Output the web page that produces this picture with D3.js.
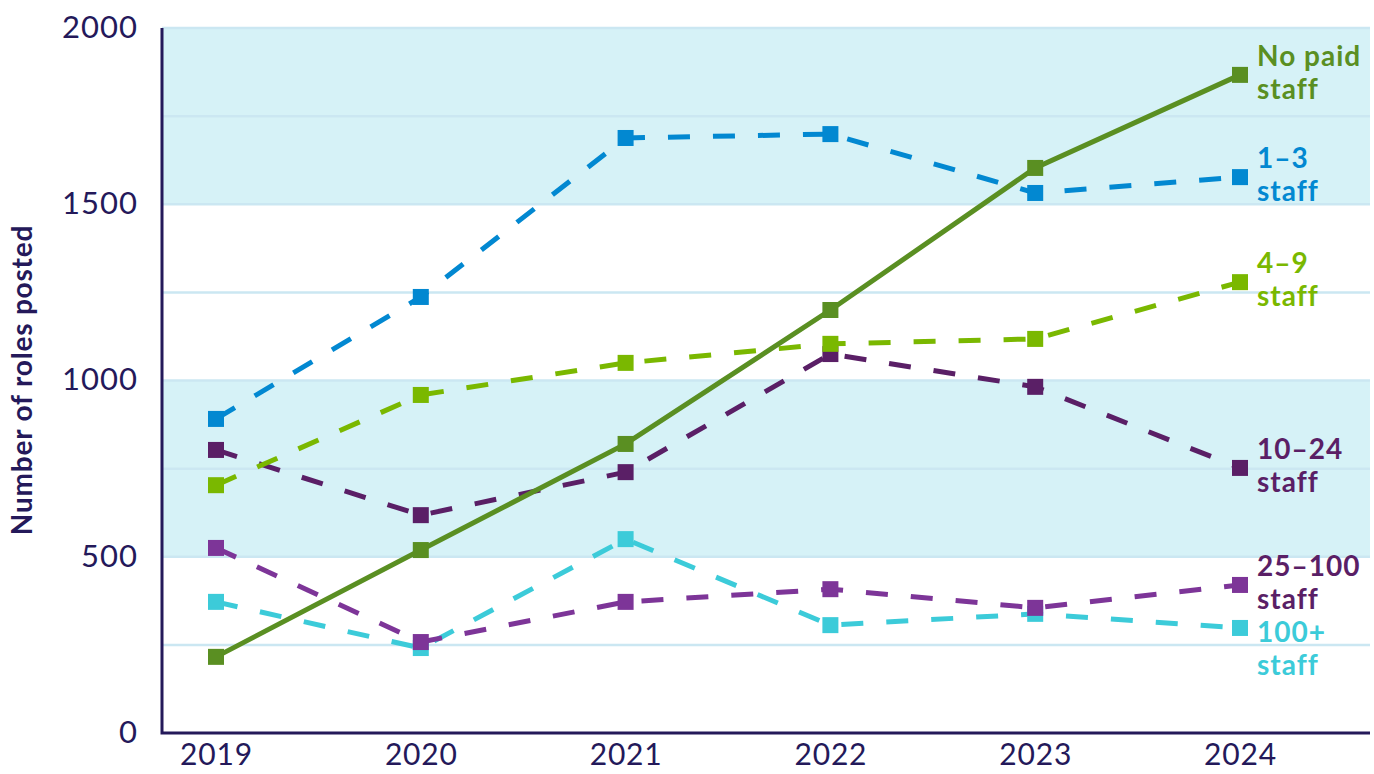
<!DOCTYPE html>
<html><head><meta charset="utf-8">
<script src="https://cdn.jsdelivr.net/npm/d3@7"></script>
<style>body{margin:0;background:#fff}svg{display:block}text{font-family:Lato,"Noto Sans",sans-serif}</style>
</head><body><svg id="c" width="1374" height="774"></svg>
<script>
const years = ["2019","2020","2021","2022","2023","2024"];
const seriesNames = ["No paid staff","1–3 staff","4–9 staff","10–24 staff","25–100 staff","100+ staff"];
const labelLines = [["No paid","staff"],["1–3","staff"],["4–9","staff"],["10–24","staff"],["25–100","staff"],["100+","staff"]];
const noPaid = [216, 519, 820, 1200, 1603, 1867];
const staff1to3 = [891, 1237, 1688, 1699, 1532, 1577];
const staff4to9 = [703, 959, 1050, 1104, 1118, 1279];
const staff10to24 = [803, 618, 740, 1075, 982, 752];
const staff25to100 = [525, 258, 372, 408, 355, 420];
const staff100plus = [372, 241, 550, 306, 338, 298];
const yTicks = [0, 500, 1000, 1500, 2000];
const gridValues = [250, 750, 1250, 1750];
const bands = [[500, 1000], [1500, 2000]];

const colors = ["#5a8f22","#0288d1","#7ab800","#5a1f66","#7d3598","#3ccbd9"];
const labelColors = ["#5a8f22","#0288d1","#7ab800","#5a1f66","#5a1f66","#3ccbd9"];
const dashed = [false,true,true,true,true,true];
const allValues = [noPaid, staff1to3, staff4to9, staff10to24, staff25to100, staff100plus];
const navy = "#24195a";

const svg = d3.select("#c");
const plotL = 162, plotR = 1370, plotT = 28, plotB = 733;
const x = d3.scalePoint().domain(years).range([216, 1240]);
const y = d3.scaleLinear().domain([0, 2000]).range([plotB, plotT]);

svg.append("g").selectAll("rect").data(bands).join("rect")
  .attr("x", plotL).attr("width", plotR - plotL)
  .attr("y", d => y(d[1])).attr("height", d => y(d[0]) - y(d[1]))
  .attr("fill", "#d6f2f7");
svg.append("g").selectAll("line").data(gridValues.concat(yTicks.filter(v => v > 0))).join("line")
  .attr("x1", plotL).attr("x2", plotR)
  .attr("y1", d => y(d)).attr("y2", d => y(d))
  .attr("stroke", "#cbe7f2").attr("stroke-width", 2.5);

const yAxis = d3.axisLeft(y).tickValues(yTicks).tickFormat(d3.format("d")).tickSize(0).tickPadding(0);
const gy = svg.append("g").attr("transform", `translate(138,0)`).call(yAxis);
gy.select(".domain").remove();
gy.selectAll("text").attr("fill", navy).style("font-size", "31px").style("letter-spacing", "1px")
  .style("font-family", "Lato, sans-serif").attr("dy", "0.3em");

const xAxis = d3.axisBottom(x).tickSize(0).tickPadding(0);
const gx = svg.append("g").attr("transform", `translate(0,744)`).call(xAxis);
gx.select(".domain").remove();
gx.selectAll("text").attr("fill", navy).style("font-size", "30px").style("letter-spacing", "0.8px")
  .style("font-family", "Lato, sans-serif").attr("dy", "0.71em");

svg.append("path").attr("d", `M${plotL},${plotT}V${plotB}H${plotR}`)
  .attr("fill", "none").attr("stroke", navy).attr("stroke-width", 3);

svg.append("text").attr("transform", `translate(22,380) rotate(-90)`)
  .attr("text-anchor", "middle").attr("dy", "0.35em").attr("fill", navy)
  .style("font-size", "28px").style("font-weight", "bold").style("letter-spacing", "0.8px")
  .text("Number of roles posted");

const line = d3.line().x((d, i) => x(years[i])).y(d => y(d));
const order = [5, 4, 3, 2, 1, 0];
order.forEach(s => {
  const g = svg.append("g");
  g.append("path").datum(allValues[s]).attr("d", line)
    .attr("fill", "none").attr("stroke", colors[s]).attr("stroke-width", 5)
    .attr("stroke-dasharray", dashed[s] ? "22,23" : null);
  g.selectAll("rect").data(allValues[s]).join("rect")
    .attr("x", (d, i) => x(years[i]) - 8).attr("y", d => y(d) - 8)
    .attr("width", 16).attr("height", 16).attr("fill", colors[s]);
});

const lastIdx = years.length - 1;
let centers = allValues.map(v => y(v[lastIdx]) - 3);
const idx = d3.range(centers.length).sort((a, b) => centers[a] - centers[b]);
for (let k = 1; k < idx.length; k++) {
  const prev = centers[idx[k-1]], cur = centers[idx[k]];
  if (cur - prev < 66) centers[idx[k]] = prev + 66;
}
allValues.forEach((v, s) => {
  labelLines[s].forEach((ln, j) => {
    svg.append("text").attr("x", 1257).attr("y", centers[s] - 16 + j * 33)
      .attr("dy", "0.35em")
      .attr("fill", labelColors[s]).style("font-size", "28px").style("font-weight", "bold")
      .style("letter-spacing", "1px").text(ln);
  });
});
</script></body></html>
